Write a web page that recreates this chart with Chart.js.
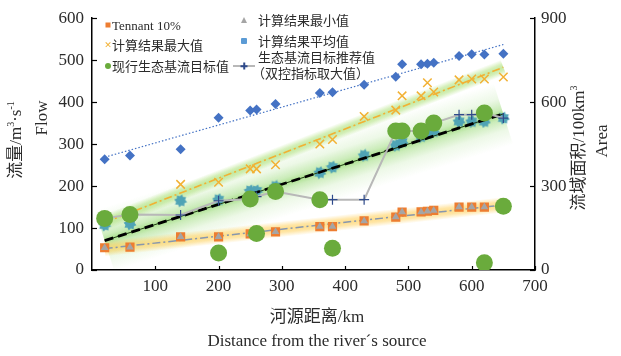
<!DOCTYPE html>
<html><head><meta charset="utf-8">
<script src="https://cdn.jsdelivr.net/npm/chart.js@4.4.0/dist/chart.umd.min.js"></script>
<style>
body{margin:0;background:#fff;}
#wrap{position:relative;width:621px;height:356px;font-family:"Liberation Serif","Noto Sans CJK SC",serif;color:#2b2b2b;overflow:hidden;}
canvas{position:absolute;left:0;top:0;}
.t{position:absolute;white-space:nowrap;line-height:1;}
.lg{font-size:13px;transform:translateY(-50%);}
.rot{transform:translate(-50%,-50%) rotate(-90deg);font-size:17px;}
.ctr{transform:translate(-50%,-50%);font-size:17px;}
.mk{position:absolute;transform:translate(-50%,-50%);}
.s{font-size:10px;position:relative;top:-7px;vertical-align:baseline;}
</style></head>
<body>
<div id="wrap">
<canvas id="c" width="621" height="356"></canvas>
<!-- legend -->
<div class="mk" style="left:108px;top:25px;width:5px;height:5px;background:#ED7D31"></div>
<div class="t lg" style="left:112px;top:25px">Tennant 10%</div>
<div class="mk" style="left:108px;top:45px;font-size:9px;color:#F2B134;font-family:'DejaVu Sans'">✕</div>
<div class="t lg" style="left:112px;top:45px">计算结果最大值</div>
<div class="mk" style="left:108px;top:66px;width:6px;height:6px;border-radius:50%;background:#6AAB3C"></div>
<div class="t lg" style="left:112px;top:66px">现行生态基流目标值</div>
<div class="mk" style="left:244px;top:20px;width:0;height:0;border-left:3px solid transparent;border-right:3px solid transparent;border-bottom:6px solid #A5A5A5"></div>
<div class="t lg" style="left:258px;top:20px">计算结果最小值</div>
<div class="mk" style="left:244px;top:41px;width:6px;height:6px;border-radius:1px;background:#5B9BD5"></div>
<div class="t lg" style="left:258px;top:41px">计算结果平均值</div>
<div class="mk" style="left:244px;top:66px;width:22px;height:2px;background:#B8B8B8"></div>
<div class="mk" style="left:244px;top:66px;width:7px;height:1.5px;background:#2E4A8B"></div>
<div class="mk" style="left:244px;top:66px;width:1.5px;height:7px;background:#2E4A8B"></div>
<div class="t lg" style="left:258px;top:57px">生态基流目标推荐值</div>
<div class="t lg" style="left:252px;top:73px">（双控指标取大值）</div>
<!-- axis titles -->
<div class="t rot" style="left:15px;top:140px">流量/m<span class="s">3</span>·s<span class="s">-1</span></div>
<div class="t rot" style="left:41px;top:118px">Flow</div>
<div class="t rot" style="left:578px;top:148px">流域面积/100km<span class="s">3</span></div>
<div class="t rot" style="left:601px;top:141px">Area</div>
<div class="t ctr" style="left:317px;top:316px">河源距离/km</div>
<div class="t ctr" style="left:317px;top:340px">Distance from the river´s source</div>
</div>
<script>
// ---- data ----
const distance = [20,60,140,200,250,260,290,360,380,430,480,490,520,530,540,580,600,620,650];
const areaValues = [396,409,432,544,570,574,593,633,635,662,691,735,735,737,741,765,771,770,773];
const tennant10 = [53,54.5,79,79,86,87,91,103.5,103.5,117,126,138,138.5,140,142,150,150,150,152];
const calcMin = [53,54.5,79,79,86,87,91,103.5,103.5,117,126,138,138.5,140,142,150,150,150,152];
const calcMax = [115,122,204,209,241,241,251,300,311,366,381,415,415,446,424,453,455,455,460];
const calcMean = [107,110,165,167.5,188.5,188.5,199,232,245,273,297,305,318,325,330,354,354,354,362];
const recommended = [123,132,131,165,169,175,187,167.5,167.5,167.5,331,331,331,346,350,370,370,374,362];
const currentDist = [20,60,200,250,260,290,360,380,480,490,520,540,620,620,650];
const currentVal = [123,132,40.5,169,87,187,167.5,52,331,331,331,350,374,17,152];
const trendDist = [20,650];
const areaTrend = [403,806];
const maxTrend = [113,483];
const meanTrend = [70,372];
const tennantTrend = [51,155];
const xTicks = [0,100,200,300,400,500,600,700];
const yTicks = [0,100,200,300,400,500,600];
const y2Ticks = [0,300,600,900];

const pts = (xs, ys) => xs.map((x,i)=>({x:x, y:ys[i]}));

function makeStar(){
  const c=document.createElement('canvas'); c.width=14; c.height=14;
  const g=c.getContext('2d'); g.fillStyle='#4FA3B5';
  g.translate(7,7); g.beginPath();
  for(let i=0;i<16;i++){const r=i%2===0?6.6:4.6; const a=i*Math.PI/8+Math.PI/16; g.lineTo(r*Math.cos(a), r*Math.sin(a));}
  g.closePath(); g.fill();
  return c;
}
const star = makeStar();

// soft glow bands around trend lines (drawn from the trend data through the chart scales)
const glows = [
  {ys:meanTrend, rgb:'105,200,55', hw:32, stops:[[0,0],[0.25,0.12],[0.42,0.35],[0.5,0.55],[0.58,0.35],[0.75,0.12],[1,0]]},
  {ys:maxTrend, rgb:'160,220,100', hw:8, stops:[[0,0],[0.3,0.45],[0.5,0.6],[0.7,0.45],[1,0]]},
  {ys:tennantTrend, rgb:'255,205,80', hw:8, stops:[[0,0],[0.3,0.5],[0.5,0.65],[0.7,0.5],[1,0]]}
];
const glowPlugin = {
  id:'glowBands',
  beforeDatasetsDraw(chart){
    const {ctx, chartArea:a, scales:{x,y}} = chart;
    ctx.save();
    ctx.beginPath(); ctx.rect(a.left, a.top, a.right-a.left, a.bottom-a.top); ctx.clip();
    glows.forEach(g=>{
      const x1=x.getPixelForValue(trendDist[0]), y1=y.getPixelForValue(g.ys[0]);
      const x2=x.getPixelForValue(trendDist[1]), y2=y.getPixelForValue(g.ys[1]);
      const len=Math.hypot(x2-x1,y2-y1), dx=(x2-x1)/len, dy=(y2-y1)/len;
      const nx=-dy*g.hw, ny=dx*g.hw, mx=(x1+x2)/2, my=(y1+y2)/2;
      const grad=ctx.createLinearGradient(mx-nx,my-ny,mx+nx,my+ny);
      g.stops.forEach(s=>grad.addColorStop(s[0],'rgba('+g.rgb+','+s[1]+')'));
      ctx.fillStyle=grad;
      ctx.beginPath();
      ctx.moveTo(x1+nx,y1+ny); ctx.lineTo(x2+nx,y2+ny); ctx.lineTo(x2-nx,y2-ny); ctx.lineTo(x1-nx,y1-ny);
      ctx.closePath(); ctx.fill();
    });
    ctx.restore();
  }
};

const datasets = [
  {type:'line', data:pts(trendDist, areaTrend), yAxisID:'y2', borderColor:'#4472C4', borderWidth:1.2, borderDash:[1.5,2], pointRadius:0, order:80},
  {type:'line', data:pts(trendDist, maxTrend), borderColor:'#F2B134', borderWidth:1.6, borderDash:[8,3,2,3], pointRadius:0, order:79},
  {type:'line', data:pts(trendDist, tennantTrend), borderColor:'#8797AE', borderWidth:1.5, borderDash:[8,3,2,3], pointRadius:0, order:78},
  {type:'scatter', data:pts(distance, areaValues), yAxisID:'y2', pointStyle:'rectRot', pointRadius:5, backgroundColor:'#4472C4', borderWidth:0, order:70},
  {type:'scatter', data:pts(distance, tennant10), pointStyle:'rect', pointRadius:6.5, backgroundColor:'#ED7D31', borderWidth:0, order:60},
  {type:'scatter', data:pts(distance, calcMin), pointStyle:'triangle', pointRadius:4.5, backgroundColor:'#A5A5A5', borderWidth:0, order:59},
  {type:'scatter', data:pts(distance, calcMax), pointStyle:'crossRot', pointRadius:6, borderColor:'#F2B134', borderWidth:1.5, order:58},
  {type:'scatter', data:pts(distance, calcMean), pointStyle:star, order:57},
  {type:'line', data:pts(trendDist, meanTrend), borderColor:'#1f3d12', borderWidth:1, pointRadius:0, order:51},
  {type:'line', data:pts(trendDist, meanTrend), borderColor:'#000', borderWidth:2.8, borderDash:[9,5], pointRadius:0, order:50},
  {type:'line', data:pts(distance, recommended), borderColor:'#B8B8B8', borderWidth:2, pointStyle:'cross', pointRadius:5, pointBorderColor:'#2E4A8B', pointBorderWidth:1.2, order:40},
  {type:'scatter', data:pts(currentDist, currentVal), pointStyle:'circle', pointRadius:8.5, backgroundColor:'#6AAB3C', borderWidth:0, order:30}
];

const inTicks = {
  id:'inTicks',
  afterDraw(chart){
    const {ctx, chartArea:a, scales} = chart;
    ctx.save(); ctx.strokeStyle='#000'; ctx.lineWidth=1.2;
    xTicks.forEach(v=>{ if(v===0) return; const p=Math.round(scales.x.getPixelForValue(v))+0.5; ctx.beginPath(); ctx.moveTo(p,a.bottom); ctx.lineTo(p,a.bottom-4); ctx.stroke(); });
    yTicks.forEach(v=>{ const p=Math.round(scales.y.getPixelForValue(v))+0.5; ctx.beginPath(); ctx.moveTo(a.left,p); ctx.lineTo(a.left+5,p); ctx.stroke(); });
    y2Ticks.forEach(v=>{ const p=Math.round(scales.y2.getPixelForValue(v))+0.5; ctx.beginPath(); ctx.moveTo(a.right,p); ctx.lineTo(a.right-5,p); ctx.stroke(); });
    ctx.restore();
  }
};

const tickFont = {family:'"Liberation Serif", serif', size:17};
new Chart(document.getElementById('c'), {
  type:'scatter',
  data:{datasets},
  options:{
    responsive:false, animation:false, devicePixelRatio:1,
    layout:{padding:{top:13,right:0,left:0,bottom:0}},
    plugins:{legend:{display:false}, tooltip:{enabled:false}},
    scales:{
      x:{type:'linear', min:0, max:700, afterBuildTicks:s=>{s.ticks=xTicks.map(v=>({value:v}));},
        ticks:{font:tickFont, color:'#2b2b2b', padding:6, callback:v=>v===0?'':v, maxRotation:0, autoSkip:false},
        grid:{display:false, drawTicks:false}, border:{display:true,color:'#000',width:1.5},
        afterFit:s=>{s.height=86;}},
      y:{type:'linear', position:'left', min:0, max:600, afterBuildTicks:s=>{s.ticks=yTicks.map(v=>({value:v}));},
        ticks:{font:tickFont, color:'#2b2b2b', padding:8},
        grid:{display:false, drawTicks:false}, border:{display:true,color:'#000',width:1.5},
        afterFit:s=>{s.width=92;}},
      y2:{type:'linear', position:'right', min:0, max:900, afterBuildTicks:s=>{s.ticks=y2Ticks.map(v=>({value:v}));},
        ticks:{font:tickFont, color:'#2b2b2b', padding:6},
        grid:{display:false, drawTicks:false}, border:{display:true,color:'#000',width:1.5},
        afterFit:s=>{s.width=86;}}
    }
  },
  plugins:[glowPlugin, inTicks]
});
</script>
</body></html>
